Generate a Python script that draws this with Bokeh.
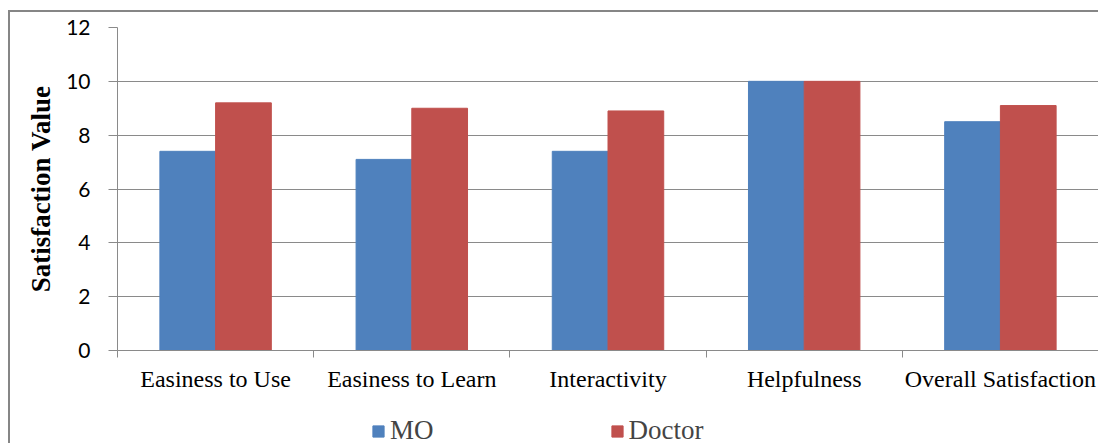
from bokeh.plotting import figure
from bokeh.layouts import column
from bokeh.models import (Range1d, LinearAxis, FixedTicker,
                          Grid, Legend, LegendItem, ColumnDataSource)
from bokeh.embed import file_html
from bokeh.resources import INLINE

categories = ["Easiness to Use", "Easiness to Learn", "Interactivity", "Helpfulness", "Overall Satisfaction"]
mo = [7.4, 7.1, 7.4, 10.0, 8.5]
doctor = [9.2, 9.0, 8.9, 10.0, 9.1]
series = ["MO", "Doctor"]
colors = ["#4F81BD", "#C0504D"]
y_ticks = [0, 2, 4, 6, 8, 10, 12]
y_label = "Satisfaction Value"

n = len(categories)
bw = 0.284
centers = [i + 0.5 for i in range(n)]
src = ColumnDataSource(dict(cat=categories,
                            x_mo=[c - bw / 2 for c in centers],
                            x_doc=[c + bw / 2 for c in centers],
                            mo=mo, doctor=doctor))

GRID = "#8a8a8a"

p = figure(x_range=Range1d(0, n), y_range=Range1d(0, 12), width=1088, height=400,
           output_backend="svg", toolbar_location=None,
           x_axis_type=None, y_axis_type=None,
           min_border_left=107, min_border_right=0, min_border_top=15, min_border_bottom=62)
p.outline_line_color = None

# y axis
yax = LinearAxis(ticker=FixedTicker(ticks=y_ticks), axis_label=y_label)
yax.axis_line_color = GRID
yax.major_tick_line_color = GRID
yax.minor_tick_line_color = None
yax.major_tick_out = 9
yax.major_tick_in = 0
yax.major_label_text_font = "Lato"
yax.major_label_text_font_size = "21px"
yax.major_label_text_color = "black"
yax.major_label_standoff = 18
yax.axis_label_text_font = "Liberation Serif"
yax.axis_label_text_font_style = "bold"
yax.axis_label_text_font_size = "27px"
yax.axis_label_text_color = "black"
yax.axis_label_standoff = 7
p.add_layout(yax, "left")

p.add_layout(Grid(dimension=1, ticker=yax.ticker, grid_line_color=GRID, grid_line_width=1))

# x axis: boundary ticks
xax1 = LinearAxis(ticker=FixedTicker(ticks=list(range(n + 1))))
xax1.axis_line_color = GRID
xax1.major_tick_line_color = GRID
xax1.minor_tick_line_color = None
xax1.major_tick_out = 7
xax1.major_tick_in = 0
xax1.major_label_text_font_size = "0px"
xax1.major_label_standoff = 0
p.add_layout(xax1, "below")

# x axis: category labels at the centres
xax2 = LinearAxis(ticker=FixedTicker(ticks=centers),
                  major_label_overrides={c: lab for c, lab in zip(centers, categories)})
xax2.axis_line_color = None
xax2.major_tick_line_color = None
xax2.minor_tick_line_color = None
xax2.major_label_text_font = "Liberation Serif"
xax2.major_label_text_font_size = "24px"
xax2.major_label_text_color = "black"
xax2.major_label_standoff = 2
p.add_layout(xax2, "below")

p.vbar(x="x_mo", top="mo", width=bw, source=src, fill_color=colors[0], line_color=colors[0])
p.vbar(x="x_doc", top="doctor", width=bw, source=src, fill_color=colors[1], line_color=colors[1])

# legend strip under the chart (legend keys use off-range placeholder bars)
lg = figure(x_range=Range1d(0, 1), y_range=Range1d(0, 1), width=1088, height=40,
            output_backend="svg", toolbar_location=None,
            x_axis_type=None, y_axis_type=None,
            min_border_left=0, min_border_right=0, min_border_top=0, min_border_bottom=0)
lg.outline_line_color = None
rs = [lg.vbar(x=[-10], top=[0], width=0.1, fill_color=c, line_color=c) for c in colors]

legend = Legend(items=[LegendItem(label=s, renderers=[r]) for s, r in zip(series, rs)],
                location=(254, 6), orientation="horizontal")
legend.glyph_width = 14
legend.glyph_height = 14
legend.label_text_font = "Liberation Serif"
legend.label_text_font_size = "27px"
legend.label_standoff = 5
legend.spacing = 176
legend.padding = 0
legend.margin = 0
legend.border_line_color = None
legend.background_fill_alpha = 0
lg.add_layout(legend)

layout = column(p, lg, spacing=0)
layout.styles = {"margin-left": "8px", "margin-top": "10px",
                 "border-left": "2px solid #868686", "border-top": "2px solid #868686"}

open("out.html", "w").write(file_html(layout, INLINE))
